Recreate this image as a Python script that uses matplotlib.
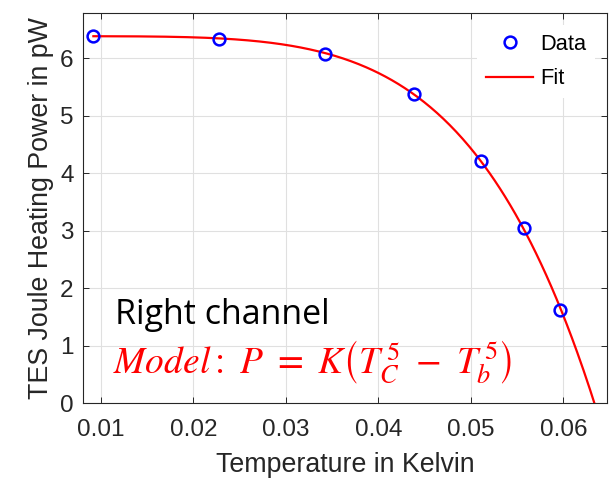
import matplotlib
matplotlib.use("Agg")
import matplotlib.pyplot as plt
import numpy as np

# measured TES heating power vs bath temperature (right channel)
temp_K = [0.00917, 0.0228, 0.0342, 0.0439, 0.0511, 0.0557, 0.0597]
power_pW = [6.39, 6.33, 6.07, 5.38, 4.22, 3.05, 1.63]

x_ticks = [0.01, 0.02, 0.03, 0.04, 0.05, 0.06]
x_ticklabels = ["0.01", "0.02", "0.03", "0.04", "0.05", "0.06"]
y_ticks = [0, 1, 2, 3, 4, 5, 6]

plt.rcParams['font.family'] = ['Liberation Sans', 'DejaVu Sans']
plt.rcParams['mathtext.fontset'] = 'stix'

T = np.array(temp_K)
P = np.array(power_pW)

# P = K*(Tc^5 - Tb^5)  ->  linear in Tb^5
slope, intercept = np.polyfit(T**5, P, 1)
K = -slope
Tc = (intercept / K) ** 0.2
T_fit = np.linspace(T[0], 0.0647, 400)
P_fit = K * (Tc**5 - T_fit**5)

fig = plt.figure(figsize=(6.09, 4.79), dpi=100)
ax = fig.add_axes([83.3/609, 1-403.3/479, 523.4/609, 390/479])

dark = (0.15, 0.15, 0.15)

ax.plot(T, P, 'o', color='blue', mfc='none', ms=8.5, mew=1.8, label='Data', zorder=3)
ax.plot(T_fit, P_fit, '-', color='red', lw=1.6, label='Fit', zorder=2)

ax.set_xlim(0.00808, 0.0647)
ax.set_ylim(0, 6.78)
ax.set_xticks(x_ticks)
ax.set_xticklabels(x_ticklabels)
ax.set_yticks(y_ticks)

ax.grid(True, color=(0.88, 0.88, 0.88), lw=0.8)
ax.set_axisbelow(True)
ax.tick_params(direction='in', length=4, width=0.7, colors=dark, labelsize=17.5,
               top=True, right=True)
ax.tick_params(axis='x', pad=11)
ax.tick_params(axis='y', pad=7)
for s in ax.spines.values():
    s.set_color(dark)
    s.set_linewidth(0.8)

ax.set_xlabel('Temperature in Kelvin', fontsize=19.25, color=dark, labelpad=8)
ax.set_ylabel('TES Joule Heating Power in pW', fontsize=19.25, color=dark, labelpad=4)

leg = ax.legend(loc='upper right', fontsize=15.75, frameon=True, fancybox=False,
                borderaxespad=0.55, handlelength=2.15, labelspacing=0.6,
                handletextpad=0.3)
leg.get_frame().set_edgecolor('white')
leg.get_frame().set_facecolor('white')
leg.get_frame().set_alpha(1)
leg.get_frame().set_linewidth(0)

ax.text(0.0606, 0.203, 'Right channel', transform=ax.transAxes, fontsize=24.5,
        family='Open Sans', color='black', ha='left', va='baseline')
ax.text(0.057, 0.075,
        r'$Model{:}\ P\ =\ K\left(T_C^{\,5}\ -\ T_b^{\,5}\right)$',
        transform=ax.transAxes, fontsize=27, color='red', ha='left', va='baseline')

fig.savefig('out.png', dpi=100)
